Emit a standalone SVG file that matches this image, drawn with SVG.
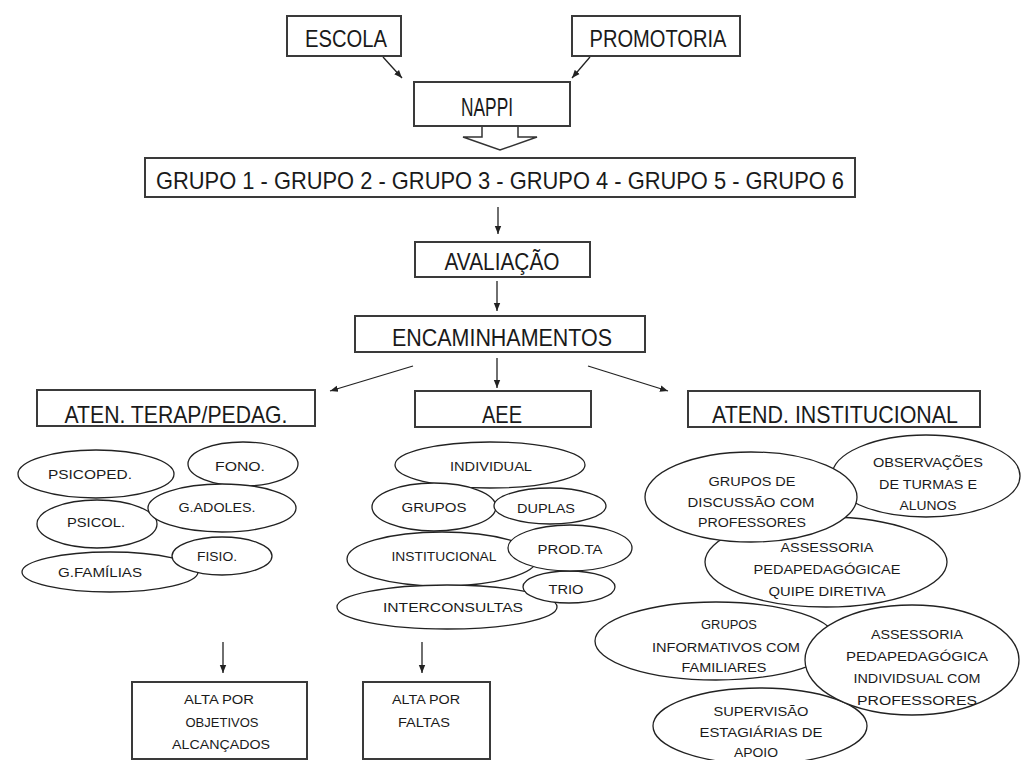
<svg xmlns="http://www.w3.org/2000/svg" width="1021" height="760" viewBox="0 0 1021 760">
<style>
.box{fill:#fff;stroke:#3a3a3a;stroke-width:2}
.ell{fill:#fff;stroke:#222;stroke-width:1.3}
.t{font-family:"Liberation Sans",Arial,sans-serif;fill:#1a1a1a;text-anchor:middle}
.big{font-size:23px}
.sm{font-size:12.5px}
.c{stroke:#222;stroke-width:1.3;fill:none;marker-end:url(#ah)}
</style>
<defs>
<marker id="ah" viewBox="0 0 10 10" refX="10" refY="5" markerWidth="8" markerHeight="8" markerUnits="userSpaceOnUse" orient="auto">
<path d="M0,1 L10,5 L0,9 z" fill="#222"/>
</marker>
</defs>
<rect width="1021" height="760" fill="#fff"/>

<g id="connectors">
<line class="c" x1="383" y1="57" x2="402" y2="78"/>
<line class="c" x1="590" y1="57" x2="572" y2="78"/>
<path d="M482,126 L482,137 L463,137 L500,150 L537,137 L518,137 L518,126" fill="#fff" stroke="#333" stroke-width="1.5"/>
<line class="c" x1="498" y1="207" x2="498" y2="234"/>
<line class="c" x1="497" y1="281" x2="497" y2="311"/>
<line class="c" x1="413" y1="366" x2="330" y2="391"/>
<line class="c" x1="497" y1="358" x2="497" y2="388"/>
<line class="c" x1="588" y1="366" x2="668" y2="391"/>
<line class="c" x1="223" y1="642" x2="223" y2="673"/>
<line class="c" x1="422" y1="642" x2="422" y2="673"/>
</g>

<g id="escola"><rect class="box" x="287" y="16" width="114" height="40"/><text class="t big" x="346" y="47" textLength="82" lengthAdjust="spacingAndGlyphs">ESCOLA</text></g>
<g id="promotoria"><rect class="box" x="572" y="16" width="168" height="40"/><text class="t big" x="658" y="47" textLength="137" lengthAdjust="spacingAndGlyphs">PROMOTORIA</text></g>
<g id="nappi"><rect class="box" x="414" y="82" width="156" height="44"/><text class="t" style="font-size:26px" x="487" y="116" textLength="52" lengthAdjust="spacingAndGlyphs">NAPPI</text></g>
<g id="grupos"><rect class="box" x="145" y="158" width="710" height="39"/><text class="t" style="font-size:24px" x="500" y="189" textLength="688" lengthAdjust="spacingAndGlyphs">GRUPO 1 - GRUPO 2 - GRUPO 3 - GRUPO 4 - GRUPO 5 - GRUPO 6</text></g>
<g id="avaliacao"><rect class="box" x="415" y="242" width="175" height="35"/><text class="t big" x="502" y="270" textLength="115" lengthAdjust="spacingAndGlyphs">AVALIAÇÃO</text></g>
<g id="encaminhamentos"><rect class="box" x="355" y="316" width="290" height="36"/><text class="t big" x="502" y="346" textLength="220" lengthAdjust="spacingAndGlyphs">ENCAMINHAMENTOS</text></g>
<g id="aten"><rect class="box" x="37" y="390" width="278" height="36"/><text class="t" style="font-size:24px" x="176" y="423" textLength="223" lengthAdjust="spacingAndGlyphs">ATEN. TERAP/PEDAG.</text></g>
<g id="aee"><rect class="box" x="415" y="391" width="176" height="36"/><text class="t" style="font-size:24px" x="502" y="423" textLength="40" lengthAdjust="spacingAndGlyphs">AEE</text></g>
<g id="atend"><rect class="box" x="688" y="391" width="292" height="36"/><text class="t" style="font-size:23px" x="835" y="423" textLength="246" lengthAdjust="spacingAndGlyphs">ATEND. INSTITUCIONAL</text></g>

<g id="psicoped"><ellipse class="ell" cx="96" cy="474" rx="78" ry="24"/><text class="t sm" x="90" y="479" textLength="84" lengthAdjust="spacingAndGlyphs">PSICOPED.</text></g>
<g id="fono"><ellipse class="ell" cx="243" cy="464" rx="55" ry="22"/><text class="t sm" x="240" y="471" textLength="50" lengthAdjust="spacingAndGlyphs">FONO.</text></g>
<g id="psicol"><ellipse class="ell" cx="97" cy="524" rx="60" ry="24"/><text class="t sm" x="96" y="527" textLength="58" lengthAdjust="spacingAndGlyphs">PSICOL.</text></g>
<g id="gadoles"><ellipse class="ell" cx="222" cy="508" rx="74" ry="24"/><text class="t sm" x="217" y="512" textLength="77" lengthAdjust="spacingAndGlyphs">G.ADOLES.</text></g>
<g id="gfamilias"><ellipse class="ell" cx="110" cy="572" rx="88" ry="20"/><text class="t sm" x="100" y="577" textLength="84" lengthAdjust="spacingAndGlyphs">G.FAMÍLIAS</text></g>
<g id="fisio"><ellipse class="ell" cx="222" cy="556" rx="50" ry="19"/><text class="t sm" x="217" y="561" textLength="40" lengthAdjust="spacingAndGlyphs">FISIO.</text></g>

<g id="individual"><ellipse class="ell" cx="490" cy="465" rx="95" ry="23"/><text class="t sm" x="491" y="471" textLength="82" lengthAdjust="spacingAndGlyphs">INDIVIDUAL</text></g>
<g id="grupos-aee"><ellipse class="ell" cx="434" cy="507" rx="62" ry="24"/><text class="t sm" x="434" y="512" textLength="65" lengthAdjust="spacingAndGlyphs">GRUPOS</text></g>
<g id="duplas"><ellipse class="ell" cx="550" cy="506" rx="56" ry="18"/><text class="t sm" x="546" y="513" textLength="58" lengthAdjust="spacingAndGlyphs">DUPLAS</text></g>
<g id="institucional"><ellipse class="ell" cx="442" cy="559" rx="95" ry="27"/><text class="t sm" x="444" y="561" textLength="105" lengthAdjust="spacingAndGlyphs">INSTITUCIONAL</text></g>
<g id="interconsultas"><ellipse class="ell" cx="447" cy="607" rx="110" ry="22"/><text class="t sm" x="453" y="612" textLength="140" lengthAdjust="spacingAndGlyphs">INTERCONSULTAS</text></g>
<g id="trio"><ellipse class="ell" cx="569" cy="587" rx="46" ry="16"/><text class="t sm" x="566" y="594" textLength="35" lengthAdjust="spacingAndGlyphs">TRIO</text></g>
<g id="prodta"><ellipse class="ell" cx="570" cy="548" rx="62" ry="23"/><text class="t sm" x="570" y="554" textLength="65" lengthAdjust="spacingAndGlyphs">PROD.TA</text></g>

<g id="observacoes"><ellipse class="ell" cx="926" cy="476" rx="94" ry="41"/>
<text class="t sm" x="928" y="467" textLength="110" lengthAdjust="spacingAndGlyphs">OBSERVAÇÕES</text>
<text class="t sm" x="928" y="489" textLength="98" lengthAdjust="spacingAndGlyphs">DE TURMAS E</text>
<text class="t sm" x="928" y="510" textLength="57" lengthAdjust="spacingAndGlyphs">ALUNOS</text></g>
<g id="assessoria-equipe"><ellipse class="ell" cx="826" cy="562" rx="121" ry="45"/>
<text class="t sm" x="827" y="552" textLength="93" lengthAdjust="spacingAndGlyphs">ASSESSORIA</text>
<text class="t sm" x="827" y="574" textLength="147" lengthAdjust="spacingAndGlyphs">PEDAPEDAGÓGICAE</text>
<text class="t sm" x="827" y="596" textLength="117" lengthAdjust="spacingAndGlyphs">QUIPE DIRETIVA</text></g>
<g id="grupos-discussao"><ellipse class="ell" cx="751" cy="497" rx="106" ry="45"/>
<text class="t sm" x="752" y="486" textLength="87" lengthAdjust="spacingAndGlyphs">GRUPOS DE</text>
<text class="t sm" x="751" y="507" textLength="127" lengthAdjust="spacingAndGlyphs">DISCUSSÃO COM</text>
<text class="t sm" x="752" y="527" textLength="108" lengthAdjust="spacingAndGlyphs">PROFESSORES</text></g>
<g id="grupos-informativos"><ellipse class="ell" cx="716" cy="641" rx="121" ry="39"/>
<text class="t sm" x="729" y="629" textLength="56" lengthAdjust="spacingAndGlyphs">GRUPOS</text>
<text class="t sm" x="726" y="652" textLength="148" lengthAdjust="spacingAndGlyphs">INFORMATIVOS COM</text>
<text class="t sm" x="724" y="672" textLength="85" lengthAdjust="spacingAndGlyphs">FAMILIARES</text></g>
<g id="supervisao"><ellipse class="ell" cx="760" cy="726" rx="107" ry="38"/>
<text class="t sm" x="761" y="716" textLength="95" lengthAdjust="spacingAndGlyphs">SUPERVISÃO</text>
<text class="t sm" x="761" y="737" textLength="123" lengthAdjust="spacingAndGlyphs">ESTAGIÁRIAS DE</text>
<text class="t sm" x="756" y="757" textLength="44" lengthAdjust="spacingAndGlyphs">APOIO</text></g>
<g id="assessoria-individual"><ellipse class="ell" cx="912" cy="660" rx="107" ry="55"/>
<text class="t sm" x="917" y="639" textLength="92" lengthAdjust="spacingAndGlyphs">ASSESSORIA</text>
<text class="t sm" x="917" y="661" textLength="142" lengthAdjust="spacingAndGlyphs">PEDAPEDAGÓGICA</text>
<text class="t sm" x="917" y="683" textLength="127" lengthAdjust="spacingAndGlyphs">INDIVIDSUAL COM</text>
<text class="t sm" x="917" y="705" textLength="120" lengthAdjust="spacingAndGlyphs">PROFESSORES</text></g>

<g id="alta-objetivos"><rect class="box" x="132" y="682" width="175" height="77"/>
<text class="t sm" x="219" y="704" textLength="70" lengthAdjust="spacingAndGlyphs">ALTA POR</text>
<text class="t sm" x="222" y="727" textLength="73" lengthAdjust="spacingAndGlyphs">OBJETIVOS</text>
<text class="t sm" x="221" y="749" textLength="98" lengthAdjust="spacingAndGlyphs">ALCANÇADOS</text></g>
<g id="alta-faltas"><rect class="box" x="363" y="682" width="127" height="77"/>
<text class="t sm" x="426" y="704" textLength="68" lengthAdjust="spacingAndGlyphs">ALTA POR</text>
<text class="t sm" x="424" y="727" textLength="52" lengthAdjust="spacingAndGlyphs">FALTAS</text></g>
</svg>
